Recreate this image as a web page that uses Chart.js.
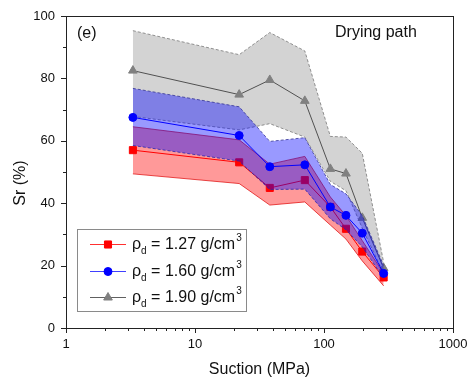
<!DOCTYPE html>
<html>
<head>
<meta charset="utf-8">
<script src="https://cdn.jsdelivr.net/npm/chart.js@4.4.1/dist/chart.umd.min.js"></script>
<style>
  html, body { margin: 0; padding: 0; background: #fff; }
  #wrap { width: 469px; height: 383px; position: relative; }
</style>
</head>
<body>
<div id="wrap"><canvas id="srChart"></canvas></div>
<script>
// suction levels (MPa)
const suction = [3.3, 22, 38, 71, 112, 148, 198, 290];

// rho_d = 1.27 g/cm3
const sr127 = [57, 53.1, 44.9, 47.4, 38.8, 31.8, 24.5, 16.2];
const sr127Hi = [64.5, 60.3, 52.5, 55, 42, 36, 28, 17.5];
const sr127Lo = [49.4, 46.3, 39.4, 40.4, 33, 28.5, 21.5, 13.5];

// rho_d = 1.60 g/cm3
const sr160 = [67.5, 61.7, 51.7, 52.3, 38.8, 36.1, 30.4, 17.5];
const sr160Hi = [76.8, 70.9, 59.8, 61, 46, 43, 36, 20];
const sr160Lo = [58.5, 53.5, 44.4, 44.5, 35, 31.5, 26, 16];

// rho_d = 1.90 g/cm3
const sr190 = [82.5, 74.8, 79.5, 72.8, 51, 49.5, 35.3, 19.2];
const sr190Hi = [95.3, 87.6, 94.7, 88.8, 61.4, 61.2, 56, 21];
const sr190Lo = [67.8, 63.5, 65.5, 61.2, 47, 44, 32, 17.5];

const densities = ['1.27', '1.60', '1.90'];
const xTicks = [1, 10, 100, 1000];
const yTicks = [0, 20, 40, 60, 80, 100];

function pts(arr) {
    return suction.map((x, i) => ({ x: x, y: arr[i] }));
}

function band(arr, color, dash, fill) {
    return {
        data: pts(arr),
        borderColor: color,
        borderWidth: 1,
        borderDash: dash,
        pointRadius: 0,
        backgroundColor: fill || 'transparent',
        fill: fill ? '+1' : false
    };
}

function mean(arr, line, pt, style, r) {
    return {
        data: pts(arr),
        borderColor: line,
        borderWidth: 1,
        pointStyle: style,
        pointRadius: r,
        pointBackgroundColor: pt,
        pointBorderColor: pt,
        fill: false
    };
}

// legend rows use these
const legendItems = [
    { color: '#ff3030', pt: '#ff0000', style: 'rect', r: 5 },
    { color: '#4040ff', pt: '#0000ff', style: 'circle', r: 4 },
    { color: '#606060', pt: '#808080', style: 'triangle', r: 5 }
];

const extras = {
    id: 'extras',
    afterDatasetsDraw(chart) {
        const c = chart.ctx;
        const a = chart.chartArea;
        const xs = chart.scales.x, ys = chart.scales.y;
        c.save();
        c.strokeStyle = '#222';
        c.lineWidth = 1;
        c.strokeRect(Math.round(a.left) + 0.5, Math.round(a.top) + 0.5,
            Math.round(a.right - a.left), Math.round(a.bottom - a.top));

        // y ticks
        c.beginPath();
        for (let v = 0; v <= 100; v += 10) {
            const y = Math.round(ys.getPixelForValue(v)) + 0.5;
            const len = v % 20 === 0 ? 5 : 3;
            c.moveTo(a.left - len, y);
            c.lineTo(a.left, y);
        }
        // x ticks
        for (let d = 1; d < 1000; d *= 10) {
            for (let m = 1; m <= 10; m++) {
                const v = d * m;
                const x = Math.round(xs.getPixelForValue(v)) + 0.5;
                const len = (m === 1 || m === 10) ? 5 : 3;
                c.moveTo(x, a.bottom);
                c.lineTo(x, a.bottom + len);
            }
        }
        c.stroke();

        // y axis title
        c.fillStyle = '#111';
        c.font = '16px Arial, "Liberation Sans", sans-serif';
        c.textAlign = 'center';
        c.textBaseline = 'middle';
        c.save();
        c.translate(21, 183);
        c.rotate(-Math.PI / 2);
        c.fillText('Sr (%)', 0, 0);
        c.restore();

        // panel labels
        c.textAlign = 'left';
        c.fillText('(e)', 77, 34);
        c.fillText('Drying path', 335, 33);

        // legend
        c.strokeStyle = '#8a8a8a';
        c.strokeRect(77.5, 229.5, 169, 82);
        const rows = [244, 271, 297];
        legendItems.forEach((it, i) => {
            const y = rows[i];
            c.strokeStyle = it.color;
            c.lineWidth = 1;
            c.beginPath();
            c.moveTo(90, y + 0.5);
            c.lineTo(126, y + 0.5);
            c.stroke();
            c.fillStyle = it.pt;
            c.strokeStyle = it.pt;
            Chart.helpers.drawPoint(c, { pointStyle: it.style, radius: it.r, borderWidth: 1 }, 108, y + 0.5);
            c.fillStyle = '#111';
            c.textBaseline = 'middle';
            c.font = '16px Arial, "Liberation Sans", sans-serif';
            let x = 132;
            c.fillText('\u03C1', x, y + 1);
            x += c.measureText('\u03C1').width;
            c.font = '10px Arial, "Liberation Sans", sans-serif';
            c.fillText('d', x, y + 7);
            x += c.measureText('d').width;
            c.font = '16px Arial, "Liberation Sans", sans-serif';
            const t = ' = ' + densities[i] + ' g/cm';
            c.fillText(t, x, y + 1);
            x += c.measureText(t).width;
            c.font = '10px Arial, "Liberation Sans", sans-serif';
            c.fillText('3', x + 1, y - 6);
        });
        c.restore();
    }
};

new Chart(document.getElementById('srChart'), {
    type: 'line',
    data: {
        datasets: [
            mean(sr160, '#0000ff', '#0000ff', 'circle', 4),
            band(sr160Hi, 'rgba(50,50,150,0.8)', [3, 2], 'rgba(0,0,255,0.4)'),
            band(sr160Lo, 'rgba(50,50,150,0.8)', [3, 2]),
            mean(sr127, '#ff0000', '#ff0000', 'rect', 5),
            band(sr127Hi, 'rgba(220,30,30,0.8)', [], 'rgba(255,0,0,0.4)'),
            band(sr127Lo, 'rgba(220,30,30,0.8)', []),
            mean(sr190, '#505050', '#808080', 'triangle', 5),
            band(sr190Hi, 'rgba(120,120,120,0.8)', [3, 2], 'rgba(128,128,128,0.35)'),
            band(sr190Lo, 'rgba(120,120,120,0.8)', [3, 2])
        ]
    },
    options: {
        responsive: true,
        maintainAspectRatio: false,
        animation: false,
        layout: { padding: { top: 16, right: 16, left: 0, bottom: 0 } },
        plugins: {
            legend: { display: false },
            tooltip: { enabled: false },
            filler: { drawTime: 'beforeDatasetDraw' }
        },
        scales: {
            x: {
                type: 'logarithmic',
                min: 1,
                max: 1000,
                afterBuildTicks: s => { s.ticks = xTicks.map(v => ({ value: v })); },
                afterFit: s => { s.height = 55; s.paddingLeft = 0; s.paddingRight = 0; },
                grid: { display: false, drawTicks: false },
                border: { display: false },
                ticks: {
                    padding: 9,
                    maxRotation: 0,
                    autoSkip: false,
                    color: '#111',
                    font: { family: 'Arial, "Liberation Sans", sans-serif', size: 13 },
                    callback: v => String(v)
                },
                title: {
                    display: true,
                    text: 'Suction (MPa)',
                    color: '#111',
                    padding: { top: 0, bottom: 4 },
                    font: { family: 'Arial, "Liberation Sans", sans-serif', size: 16 }
                }
            },
            y: {
                min: 0,
                max: 100,
                afterBuildTicks: s => { s.ticks = yTicks.map(v => ({ value: v })); },
                afterFit: s => { s.width = 66; s.paddingTop = 0; s.paddingBottom = 0; },
                grid: { display: false, drawTicks: false },
                border: { display: false },
                ticks: {
                    padding: 11,
                    color: '#111',
                    font: { family: 'Arial, "Liberation Sans", sans-serif', size: 13 }
                }
            }
        }
    },
    plugins: [extras]
});
</script>
</body>
</html>
